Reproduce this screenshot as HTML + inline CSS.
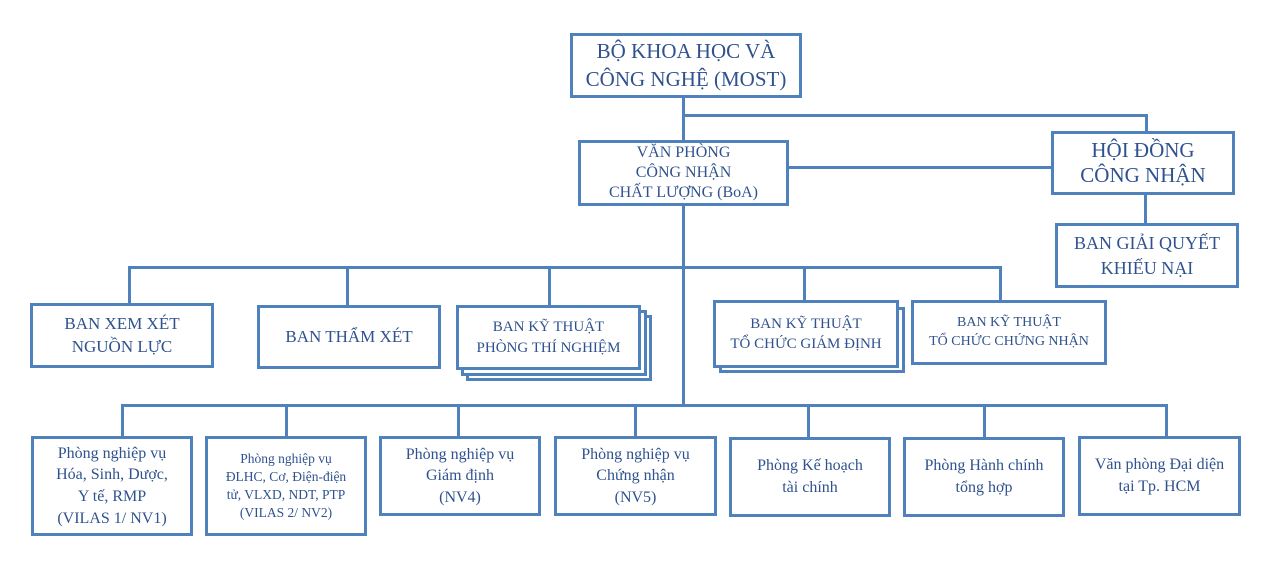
<!DOCTYPE html>
<html><head><meta charset="utf-8"><style>
body{margin:0;width:1276px;height:582px;background:#fff;position:relative;overflow:hidden;font-family:"Liberation Serif","DejaVu Serif",serif;color:#2f528f}
.b{position:absolute;box-sizing:border-box;border:3px solid #4f81bd;background:#fff;display:flex;align-items:center;justify-content:center;text-align:center;line-height:1.35}
.l{position:absolute;background:#4f81bd}
</style></head><body>
<div class="l" style="left:682px;top:97px;width:3px;height:310px"></div>
<div class="l" style="left:682px;top:114px;width:466px;height:3px"></div>
<div class="l" style="left:1145px;top:114px;width:3px;height:18px"></div>
<div class="l" style="left:788px;top:166px;width:264px;height:3px"></div>
<div class="l" style="left:1144px;top:194px;width:3px;height:30px"></div>
<div class="l" style="left:128px;top:266px;width:874px;height:3px"></div>
<div class="l" style="left:128px;top:266px;width:3px;height:38px"></div>
<div class="l" style="left:346px;top:266px;width:3px;height:40px"></div>
<div class="l" style="left:548px;top:266px;width:3px;height:40px"></div>
<div class="l" style="left:803px;top:266px;width:3px;height:35px"></div>
<div class="l" style="left:999px;top:266px;width:3px;height:35px"></div>
<div class="l" style="left:121px;top:404px;width:1047px;height:3px"></div>
<div class="l" style="left:121px;top:404px;width:3px;height:34px"></div>
<div class="l" style="left:285px;top:404px;width:3px;height:34px"></div>
<div class="l" style="left:457px;top:404px;width:3px;height:34px"></div>
<div class="l" style="left:634px;top:404px;width:3px;height:34px"></div>
<div class="l" style="left:807px;top:404px;width:3px;height:34px"></div>
<div class="l" style="left:983px;top:404px;width:3px;height:34px"></div>
<div class="l" style="left:1165px;top:404px;width:3px;height:34px"></div>

<div class="b" style="left:570px;top:33px;width:232px;height:65px;font-size:21px;line-height:1.3">BỘ KHOA HỌC VÀ<br>CÔNG NGHỆ (MOST)</div>
<div class="b" style="left:578px;top:140px;width:211px;height:66px;font-size:16px;line-height:1.25">VĂN PHÒNG<br>CÔNG NHẬN<br>CHẤT LƯỢNG (BoA)</div>
<div class="b" style="left:1051px;top:131px;width:184px;height:64px;font-size:21px;line-height:1.2">HỘI ĐỒNG<br>CÔNG NHẬN</div>
<div class="b" style="left:1055px;top:223px;width:184px;height:65px;font-size:18px">BAN GIẢI QUYẾT<br>KHIẾU NẠI</div>

<div class="b" style="left:30px;top:303px;width:184px;height:65px;font-size:17px">BAN XEM XÉT<br>NGUỒN LỰC</div>
<div class="b" style="left:257px;top:305px;width:184px;height:64px;font-size:17px">BAN THẨM XÉT</div>
<div class="b" style="left:466px;top:315px;width:186px;height:66px"></div>
<div class="b" style="left:461px;top:310px;width:186px;height:66px"></div>
<div class="b" style="left:456px;top:305px;width:185px;height:65px;font-size:15px">BAN KỸ THUẬT<br>PHÒNG THÍ NGHIỆM</div>
<div class="b" style="left:719px;top:307px;width:186px;height:66px"></div>
<div class="b" style="left:713px;top:300px;width:186px;height:68px;font-size:15px">BAN KỸ THUẬT<br>TỔ CHỨC GIÁM ĐỊNH</div>
<div class="b" style="left:911px;top:300px;width:196px;height:65px;font-size:14px">BAN KỸ THUẬT<br>TỔ CHỨC CHỨNG NHẬN</div>

<div class="b" style="left:31px;top:436px;width:162px;height:100px;font-size:16px">Phòng nghiệp vụ<br>Hóa, Sinh, Dược,<br>Y tế, RMP<br>(VILAS 1/ NV1)</div>
<div class="b" style="left:205px;top:436px;width:162px;height:100px;font-size:13.5px">Phòng nghiệp vụ<br>ĐLHC, Cơ, Điện-điện<br>tử, VLXD, NDT, PTP<br>(VILAS 2/ NV2)</div>
<div class="b" style="left:379px;top:436px;width:162px;height:80px;font-size:16px">Phòng nghiệp vụ<br>Giám định<br>(NV4)</div>
<div class="b" style="left:554px;top:436px;width:163px;height:80px;font-size:16px">Phòng nghiệp vụ<br>Chứng nhận<br>(NV5)</div>
<div class="b" style="left:729px;top:437px;width:162px;height:80px;font-size:16px">Phòng Kế hoạch<br>tài chính</div>
<div class="b" style="left:903px;top:437px;width:162px;height:80px;font-size:16px">Phòng Hành chính<br>tổng hợp</div>
<div class="b" style="left:1078px;top:436px;width:163px;height:80px;font-size:16px">Văn phòng Đại diện<br>tại Tp. HCM</div>
</body></html>
